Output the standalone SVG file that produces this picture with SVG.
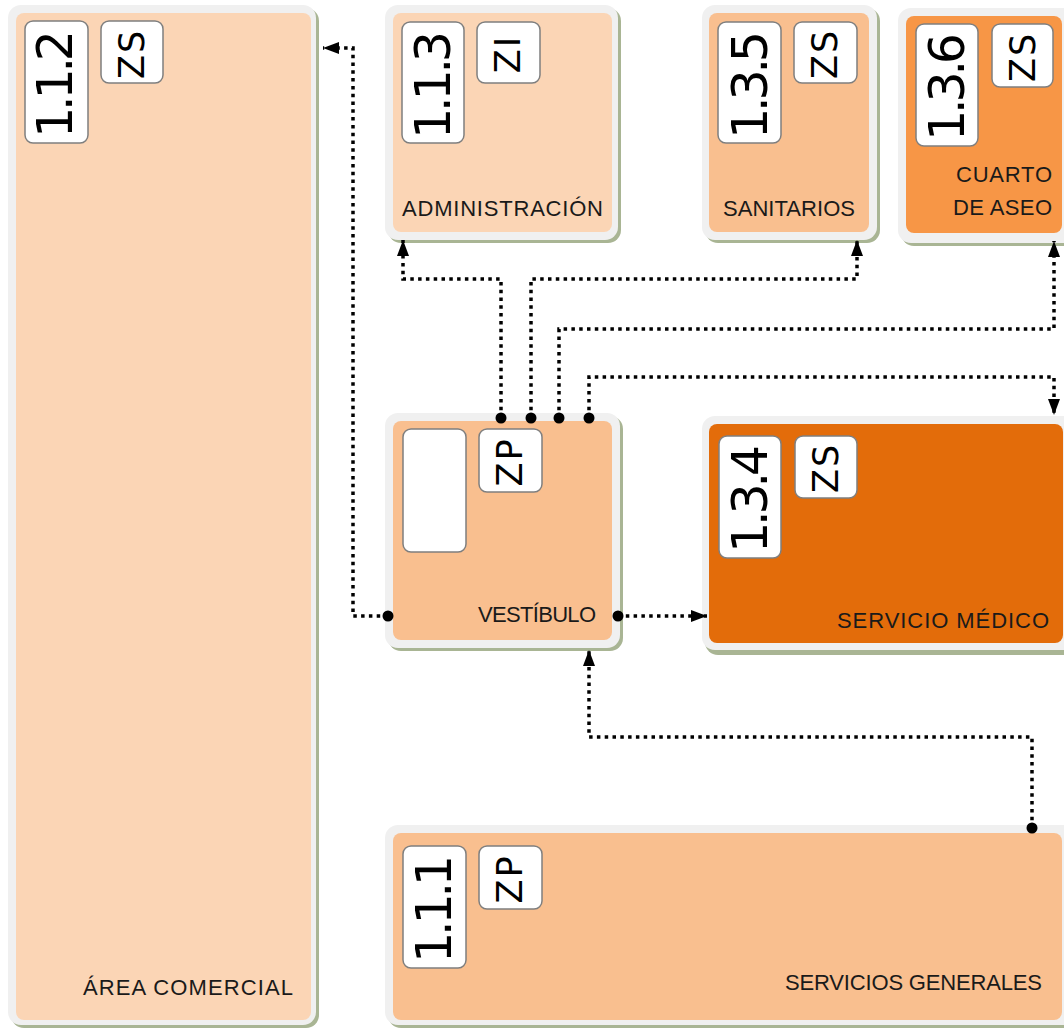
<svg xmlns="http://www.w3.org/2000/svg" width="1064" height="1030" viewBox="0 0 1064 1030">
<style>
.sh{fill:#a9b594}
.fr{fill:#f0f0f0}
.c1{fill:#fbd5b5}
.c2{fill:#f9bf8f}
.c3{fill:#f79646}
.c4{fill:#e36c0a}
.lb{fill:#ffffff;stroke:#7f7f7f;stroke-width:1.5}
.num{font-family:"DejaVu Sans",sans-serif;font-size:49px;fill:#000;text-anchor:middle}
.zn{font-family:"DejaVu Sans",sans-serif;font-size:35px;fill:#000;text-anchor:middle;letter-spacing:2px}
.nm{font-family:"Liberation Sans",Arial,sans-serif;font-size:22px;fill:#1a1a1a}
.cn{fill:none;stroke:#000;stroke-width:3.5;stroke-dasharray:3.5 4.3}
.dot{fill:#000}
</style>
<defs>
<marker id="ar" markerUnits="userSpaceOnUse" markerWidth="17" markerHeight="13" refX="16" refY="6" orient="auto">
<path d="M0,0 L16,6 L0,12 z" fill="#000"/>
</marker>
</defs>

<g id="n-1-1-2">
<rect class="sh" x="11" y="8" width="308" height="1020" rx="13"/>
<rect class="fr" x="8" y="5" width="308" height="1020" rx="13"/>
<rect class="c1" x="16" y="13" width="295" height="1007" rx="8"/>
<rect class="lb" x="25" y="21" width="63" height="122" rx="8"/>
<text class="num" transform="translate(72,84) rotate(-90)" textLength="108">1.1.2</text>
<rect class="lb" x="101" y="21" width="62" height="62" rx="8"/>
<text class="zn" transform="translate(144,54) rotate(-90)">ZS</text>
<text class="nm" x="293" y="995" text-anchor="end" textLength="210">ÁREA COMERCIAL</text>
</g>

<g id="n-1-1-3">
<rect class="sh" x="388" y="8" width="233" height="235" rx="13"/>
<rect class="fr" x="385" y="5" width="233" height="235" rx="13"/>
<rect class="c1" x="393" y="13" width="219" height="219" rx="8"/>
<rect class="lb" x="402" y="22" width="62" height="121" rx="8"/>
<text class="num" transform="translate(450,85) rotate(-90)" textLength="108">1.1.3</text>
<rect class="lb" x="477" y="22" width="63" height="61" rx="8"/>
<text class="zn" transform="translate(520,54) rotate(-90)">ZI</text>
<text class="nm" x="402" y="216" textLength="201">ADMINISTRACIÓN</text>
</g>

<g id="n-1-3-5">
<rect class="sh" x="705" y="8" width="175" height="235" rx="13"/>
<rect class="fr" x="702" y="5" width="175" height="235" rx="13"/>
<rect class="c2" x="709" y="13" width="160" height="219" rx="8"/>
<rect class="lb" x="718" y="22" width="63" height="121" rx="8"/>
<text class="num" transform="translate(767,85) rotate(-90)" textLength="108">1.3.5</text>
<rect class="lb" x="794" y="22" width="63" height="61" rx="8"/>
<text class="zn" transform="translate(837,54) rotate(-90)">ZS</text>
<text class="nm" x="789" y="216" text-anchor="middle" textLength="132">SANITARIOS</text>
</g>

<g id="n-1-3-6">
<rect class="sh" x="901" y="11" width="200" height="235" rx="13"/>
<rect class="fr" x="898" y="8" width="200" height="235" rx="13"/>
<rect class="c3" x="906" y="16" width="156" height="217" rx="8"/>
<rect class="lb" x="916" y="24" width="62" height="122" rx="8"/>
<text class="num" transform="translate(964,87) rotate(-90)" textLength="108">1.3.6</text>
<rect class="lb" x="992" y="24" width="61" height="63" rx="8"/>
<text class="zn" transform="translate(1035,57) rotate(-90)">ZS</text>
<text class="nm" x="1052" y="182" text-anchor="end" textLength="96">CUARTO</text>
<text class="nm" x="1052" y="215" text-anchor="end" textLength="99">DE ASEO</text>
</g>

<g id="n-vestibulo">
<rect class="sh" x="388" y="416" width="235" height="235" rx="13"/>
<rect class="fr" x="385" y="413" width="235" height="235" rx="13"/>
<rect class="c2" x="393" y="421" width="219" height="219" rx="8"/>
<rect class="lb" x="403" y="429" width="63" height="123" rx="8"/>
<rect class="lb" x="479" y="429" width="63" height="63" rx="8"/>
<text class="zn" transform="translate(522,462) rotate(-90)">ZP</text>
<text class="nm" x="596" y="622" text-anchor="end" textLength="118">VESTÍBULO</text>
</g>

<g id="n-1-3-4">
<rect class="sh" x="705" y="420" width="380" height="235" rx="13"/>
<rect class="fr" x="702" y="416" width="380" height="234" rx="13"/>
<rect class="c4" x="709" y="424" width="354" height="219" rx="8"/>
<rect class="lb" x="719" y="436" width="62" height="122" rx="8"/>
<text class="num" transform="translate(767,499) rotate(-90)" textLength="108">1.3.4</text>
<rect class="lb" x="795" y="436" width="62" height="62" rx="8"/>
<text class="zn" transform="translate(838,468) rotate(-90)">ZS</text>
<text class="nm" x="1049" y="628" text-anchor="end" textLength="212">SERVICIO MÉDICO</text>
</g>

<g id="n-1-1-1">
<rect class="sh" x="388" y="828" width="700" height="200" rx="13"/>
<rect class="fr" x="385" y="825" width="700" height="200" rx="13"/>
<rect class="c2" x="393" y="833" width="669" height="187" rx="8"/>
<rect class="lb" x="403" y="846" width="63" height="122" rx="8"/>
<text class="num" transform="translate(451,909) rotate(-90)" textLength="108">1.1.1</text>
<rect class="lb" x="479" y="846" width="63" height="63" rx="8"/>
<text class="zn" transform="translate(522,879) rotate(-90)">ZP</text>
<text class="nm" x="1042" y="990" text-anchor="end" textLength="257">SERVICIOS GENERALES</text>
</g>

<g id="connectors">
<path class="cn" d="M388,616 H353 V48 H323" marker-end="url(#ar)"/>
<path class="cn" d="M501,418 V279 H403 V240" marker-end="url(#ar)"/>
<path class="cn" d="M531,418 V279 H857 V240" marker-end="url(#ar)"/>
<path class="cn" d="M559,418 V329 H1054 V241" marker-end="url(#ar)"/>
<path class="cn" d="M589,418 V377 H1054 V415" marker-end="url(#ar)"/>
<path class="cn" d="M618,616 H707" marker-end="url(#ar)"/>
<path class="cn" d="M1032,828 V737 H589 V650" marker-end="url(#ar)"/>
<circle class="dot" cx="388" cy="616" r="5.5"/>
<circle class="dot" cx="501" cy="418" r="5.5"/>
<circle class="dot" cx="531" cy="418" r="5.5"/>
<circle class="dot" cx="559" cy="418" r="5.5"/>
<circle class="dot" cx="589" cy="418" r="5.5"/>
<circle class="dot" cx="618" cy="616" r="5.5"/>
<circle class="dot" cx="1032" cy="828" r="5.5"/>
</g>
</svg>
